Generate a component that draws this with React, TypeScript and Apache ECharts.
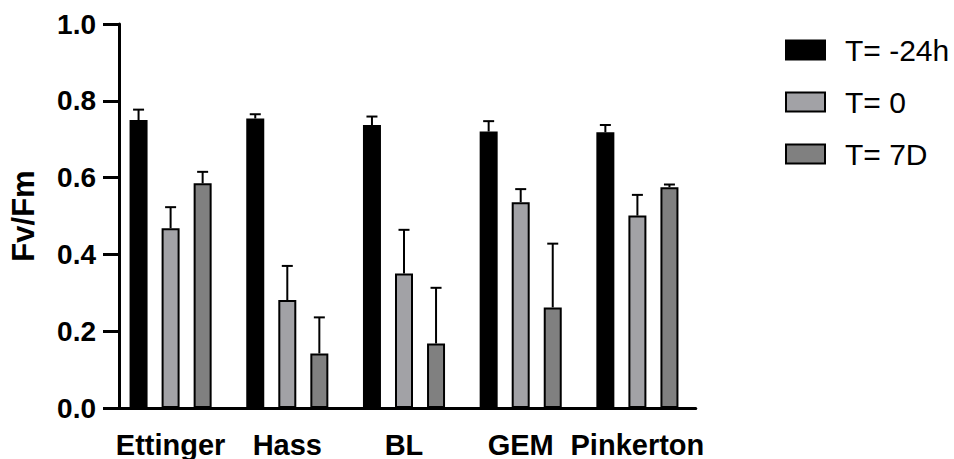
import React, { useEffect, useRef } from "react";
import * as echarts from "echarts";

// Fv/Fm per cultivar at three time points (mean and upper SD)
const categories = ["Ettinger", "Hass", "BL", "GEM", "Pinkerton"];
const seriesNames = ["T= -24h", "T= 0", "T= 7D"];
const meanBefore = [0.75, 0.754, 0.737, 0.72, 0.718];
const meanT0 = [0.468, 0.281, 0.35, 0.536, 0.501];
const mean7D = [0.585, 0.142, 0.168, 0.262, 0.575];
const sdBefore = [0.027, 0.011, 0.022, 0.027, 0.019];
const sdT0 = [0.055, 0.089, 0.114, 0.034, 0.054];
const sd7D = [0.03, 0.094, 0.145, 0.166, 0.007];
const yTicks = [0, 0.2, 0.4, 0.6, 0.8, 1.0];

const FONT = "'Liberation Sans', Arial, Helvetica, sans-serif";
const colors = ["#000000", "#a2a2a6", "#808080"];
const BAR_WIDTH = 18;
const BAR_GAP = "78%";

export default function App() {
  const ref = useRef<HTMLDivElement>(null);

  useEffect(() => {
    if (!ref.current) return;
    const chart = echarts.init(ref.current, undefined, { renderer: "svg" });
    const means = [meanBefore, meanT0, mean7D];
    const sds = [sdBefore, sdT0, sd7D];

    const barSeries = seriesNames.map((name, k) => ({
      name,
      type: "bar",
      data: means[k],
      barWidth: BAR_WIDTH,
      barGap: BAR_GAP,
      itemStyle: { color: colors[k], borderColor: "#000", borderWidth: 2 },
      z: 2,
    }));

    const errorSeries = seriesNames.map((name, k) => ({
      name: "err-" + name,
      type: "custom",
      z: 3,
      data: categories.map((_, i) => [i, means[k][i], means[k][i] + sds[k][i]]),
      renderItem: (params: any, api: any) => {
        const layout = api.barLayout({ barWidth: BAR_WIDTH, barGap: BAR_GAP, count: 3 });
        const off = layout[k].offsetCenter;
        const base = api.coord([api.value(0), api.value(1)]);
        const top = api.coord([api.value(0), api.value(2)]);
        const x = base[0] + off;
        const half = 5.5;
        return {
          type: "group",
          children: [
            { type: "line", shape: { x1: x, y1: base[1], x2: x, y2: top[1] }, style: { stroke: "#000", lineWidth: 2 } },
            { type: "line", shape: { x1: x - half, y1: top[1], x2: x + half, y2: top[1] }, style: { stroke: "#000", lineWidth: 2 } },
          ],
        };
      },
    }));

    chart.setOption({
      animation: false,
      backgroundColor: "#ffffff",
      textStyle: { fontFamily: FONT },
      legend: {
        data: seriesNames,
        orient: "vertical",
        left: 780,
        top: 30,
        itemWidth: 39,
        itemHeight: 19,
        itemGap: 22,
        icon: "rect",
        formatter: "{t|{name}}",
        textStyle: {
          fontFamily: FONT,
          fontSize: 30,
          color: "#000",
          lineHeight: 30,
          rich: { t: { fontFamily: FONT, fontSize: 30, color: "#000", lineHeight: 30, padding: [0, 0, 0, 15] } },
        },
      },
      grid: { left: 108.25, top: 24, width: 587.5, bottom: 51, containLabel: false },
      xAxis: {
        type: "category",
        data: categories,
        boundaryGap: true,
        axisLine: { lineStyle: { color: "#000", width: 3 } },
        axisTick: { alignWithLabel: true, length: 15, lineStyle: { color: "#000", width: 3 } },
        axisLabel: { fontFamily: FONT, fontSize: 29, fontWeight: "bold", color: "#000", margin: 22, interval: 0 },
      },
      yAxis: {
        type: "value",
        min: yTicks[0],
        max: yTicks[yTicks.length - 1],
        interval: 0.2,
        offset: -6.75,
        name: "Fv/Fm",
        nameLocation: "middle",
        nameGap: 80,
        nameTextStyle: { fontFamily: FONT, fontSize: 31, fontWeight: "bold", color: "#000" },
        axisLine: { show: true, lineStyle: { color: "#000", width: 3 } },
        axisTick: { show: true, length: 16, lineStyle: { color: "#000", width: 3 } },
        axisLabel: {
          fontFamily: FONT,
          fontSize: 28,
          fontWeight: "bold",
          color: "#000",
          margin: 23,
          formatter: (v: number) => v.toFixed(1),
        },
        splitLine: { show: false },
      },
      series: [...barSeries, ...errorSeries],
    });

    return () => chart.dispose();
  }, []);

  return (
    <div
      ref={ref}
      style={{ position: "fixed", left: 0, top: 0, width: 954, height: 459, background: "#fff" }}
    />
  );
}
